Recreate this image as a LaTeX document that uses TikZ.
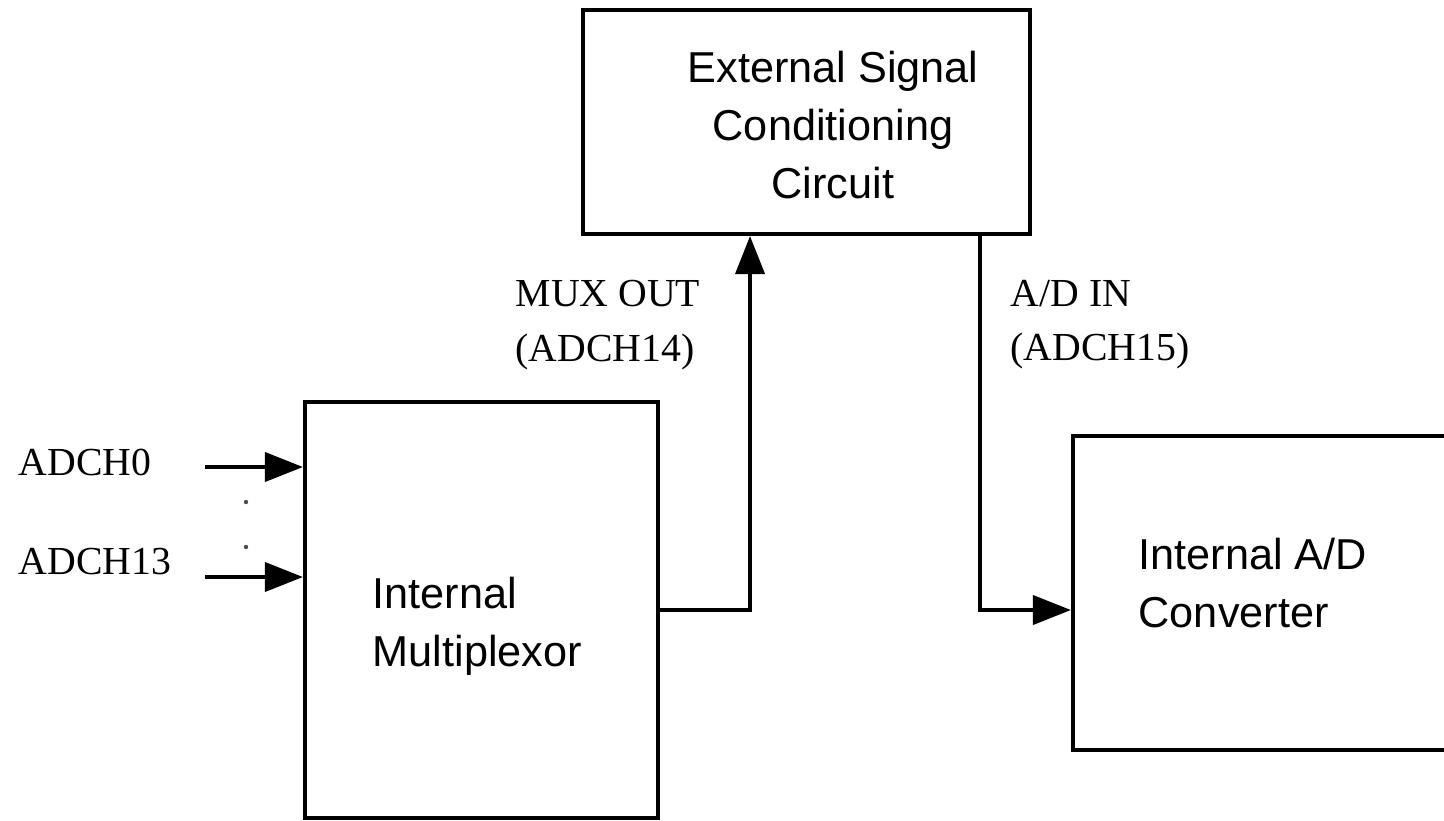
\documentclass[tikz,border=0pt]{standalone}
\usepackage{fontspec}
\setmainfont{Liberation Serif}
\setsansfont{Liberation Sans}
\usepackage{tikz}
\usetikzlibrary{arrows.meta, positioning, calc}

\begin{document}
\begin{tikzpicture}[
  x=0.01cm, y=-0.01cm,
  >={Triangle[length=3.8mm, width=2.9mm]},
  block/.style={draw, line width=1.1pt, inner sep=0pt},
  blocktext/.style={font=\fontsize{12.3}{16.4}\selectfont\sffamily, inner sep=0pt},
  sig/.style={line width=1.1pt},
  pin/.style={font=\fontsize{11.3}{15.4}\selectfont, inner sep=0pt, align=left, anchor=west},
]
\useasboundingbox (0,0) rectangle (1444,820);

% --- Blocks ---
\node[block, minimum width=4.47cm, minimum height=2.24cm] (esc) at (806.5,122) {};
\node[block, minimum width=3.53cm, minimum height=4.16cm] (mux) at (481.5,610) {};
\node[block, minimum width=3.87cm, minimum height=3.14cm] (adc) at (1266.5,593) {};

\node[blocktext, align=center] (esctext) at (833,125) {External Signal\\Conditioning\\Circuit};
\node[blocktext, align=left, anchor=west] (muxtext) at (372,626) {Internal\\Multiplexor};
\node[blocktext, align=left, anchor=west] (adctext) at (1138,583) {Internal A/D\\Converter};

% --- Inputs to the multiplexor ---
\node[pin] (ch0) at (18,462) {ADCH0};
\node[pin] (ch13) at (18,562) {ADCH13};
\coordinate (in0) at (205,467);
\coordinate (in13) at (205,577);
\draw[sig, ->] (in0) -- (in0 -| mux.west);
\draw[sig, ->] (in13) -- (in13 -| mux.west);
\fill[gray!60!black] (246,502) circle (2.2);
\fill[gray!60!black] (246,547) circle (2.2);

% --- Mux out / A/D in ---
\node[pin] (muxout) at (515,325) {MUX OUT\\(ADCH14)};
\node[pin] (adin) at (1010,325) {A/D IN\\(ADCH15)};
\draw[sig, ->] (mux.east) -| ([xshift=1.69cm]esc.south west);
\draw[sig, ->] ([xshift=-0.52cm]esc.south east) |- ([yshift=-0.17cm]adc.west);

\end{tikzpicture}
\end{document}
